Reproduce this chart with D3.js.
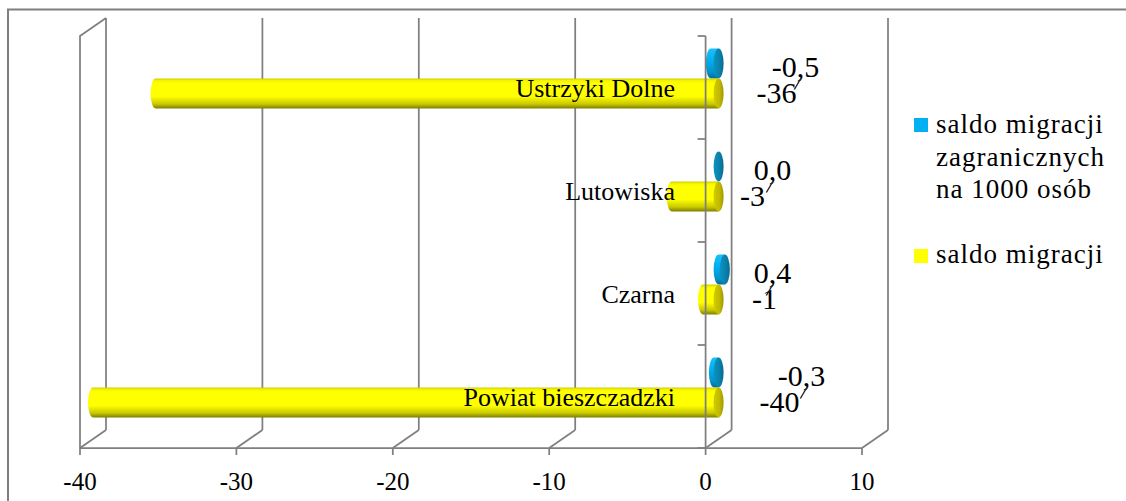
<!DOCTYPE html>
<html><head><meta charset="utf-8">
<script src="https://cdn.jsdelivr.net/npm/d3@7"></script>
<style>html,body{margin:0;padding:0;background:#fff;} svg{display:block;}</style>
</head><body>
<svg id="chart" width="1126" height="501"></svg>
<script>
// ---- data ----
const categories = ["Ustrzyki Dolne", "Lutowiska", "Czarna", "Powiat bieszczadzki"];
const saldoMigracji = [-36, -3, -1, -40];
const saldoZagraniczne = [-0.5, 0.0, 0.4, -0.3];
const seriesNames = ["saldo migracji zagranicznych na 1000 osób", "saldo migracji"];
const xTicks = [-40, -30, -20, -10, 0, 10];

// ---- layout (manual label placement as in the original) ----
const labelDxSaldo = [71, 47, 59, 74];
const labelDxZagr = [90, 67, 67, 96];

const svg = d3.select("#chart");
const FONT = "'Liberation Serif', 'Times New Roman', serif";
const GRID = "#7f7f7f";

const x = d3.scaleLinear().domain([-40, 10]).range([80, 862]);
const y = d3.scaleBand().domain(categories).range([36, 448]);
const bw = y.bandwidth();
const inner = d3.scaleBand().domain(["zagr", "saldo"]).range([bw / 2 - 30, bw / 2 + 30]);
const DX = 26, DY = -18;
const proj = (v, yy, d) => [x(v) + DX * d, yy + DY * d];

// outer border
svg.append("rect").attr("x", 8).attr("y", 9.5).attr("width", 1300).attr("height", 700)
  .attr("fill", "none").attr("stroke", GRID).attr("stroke-width", 2);

// gradients
const defs = svg.append("defs");
function lin(id, vertical, stops) {
  const g = defs.append("linearGradient").attr("id", id)
    .attr("x1", 0).attr("y1", 0).attr("x2", vertical ? 0 : 1).attr("y2", vertical ? 1 : 0);
  stops.forEach(([o, c]) => g.append("stop").attr("offset", o).attr("stop-color", c));
}
lin("yBody", true, [[0, "#cfcf00"], [0.07, "#f4f400"], [0.15, "#ffff00"], [0.6, "#ffff00"], [0.85, "#c9c900"], [1, "#7d7d00"]]);
lin("yCap", false, [[0, "#d2cb00"], [0.6, "#c0b900"], [1, "#9c9600"]]);
lin("bBody", true, [[0, "#1cc0f8"], [0.4, "#00b0f0"], [0.8, "#0092c8"], [1, "#006f98"]]);
lin("bCap", false, [[0, "#0b93c2"], [0.6, "#0a80aa"], [1, "#066a8f"]]);

// back wall gridlines + floor diagonals
const yFloor = 448, yTop = 36;
xTicks.forEach(t => {
  const [bx, by] = proj(t, yFloor, 1);
  const [, bt] = proj(t, yTop, 1);
  svg.append("line").attr("x1", bx).attr("y1", by).attr("x2", bx).attr("y2", bt)
    .attr("stroke", GRID).attr("stroke-width", 1.75);
  svg.append("line").attr("x1", x(t)).attr("y1", yFloor).attr("x2", bx).attr("y2", by)
    .attr("stroke", GRID).attr("stroke-width", 1.75);
  svg.append("line").attr("x1", x(t)).attr("y1", yFloor).attr("x2", x(t)).attr("y2", yFloor + 7)
    .attr("stroke", GRID).attr("stroke-width", 1.75);
});
// left side edge
{
  const [bx, bt] = proj(-40, yTop, 1);
  svg.append("path").attr("d", `M${x(-40)},${yFloor}V${yTop}L${bx},${bt}`)
    .attr("fill", "none").attr("stroke", GRID).attr("stroke-width", 1.75);
}
// floor front line
svg.append("line").attr("x1", x(-40)).attr("y1", yFloor).attr("x2", x(10)).attr("y2", yFloor)
  .attr("stroke", GRID).attr("stroke-width", 1.75);

// tick labels
svg.append("g").selectAll("text").data(xTicks).join("text")
  .attr("x", d => x(d)).attr("y", 490).attr("text-anchor", "middle")
  .attr("font-family", FONT).attr("font-size", 25).attr("fill", "#000")
  .text(d => d);

// cylinders
const RX = 5, RY = inner.bandwidth() / 2;
function cylinder(g, v, cat, key, body, cap) {
  const yc = y(cat) + inner(key) + RY;
  const [xa, yy] = proj(Math.min(v, 0), yc, 0.5);
  const [xb] = proj(Math.max(v, 0), yc, 0.5);
  if (xb - xa > 0.5) {
    g.append("path")
      .attr("d", `M${xb},${yy - RY}L${xa},${yy - RY}A${RX},${RY} 0 0 0 ${xa},${yy + RY}L${xb},${yy + RY}Z`)
      .attr("fill", `url(#${body})`);
  }
  g.append("ellipse").attr("cx", xb).attr("cy", yy).attr("rx", RX).attr("ry", RY)
    .attr("fill", `url(#${cap})`);
}
const barsG = svg.append("g");
categories.forEach((c, i) => {
  cylinder(barsG, saldoZagraniczne[i], c, "zagr", "bBody", "bCap");
  cylinder(barsG, saldoMigracji[i], c, "saldo", "yBody", "yCap");
});

// category axis (front plane at 0)
svg.append("line").attr("x1", x(0)).attr("y1", yTop).attr("x2", x(0)).attr("y2", yFloor)
  .attr("stroke", GRID).attr("stroke-width", 1.75);
categories.concat([null]).forEach(c => {
  const yy = c === null ? yFloor : y(c);
  svg.append("line").attr("x1", x(0) - 8).attr("y1", yy).attr("x2", x(0)).attr("y2", yy)
    .attr("stroke", GRID).attr("stroke-width", 1.75);
});

// category labels
svg.append("g").selectAll("text").data(categories).join("text")
  .attr("x", 675).attr("y", d => y(d) + bw / 2 + 9).attr("text-anchor", "end")
  .attr("font-family", FONT).attr("font-size", 26).attr("fill", "#000")
  .text(d => d);

// value labels
const fmtInt = d => String(d);
const fmtDec = d => d.toFixed(1).replace(".", ",").replace("-0,0", "0,0");
const lblG = svg.append("g").attr("font-family", FONT).attr("font-size", 30).attr("fill", "#000");
categories.forEach((c, i) => {
  const cy = y(c) + bw / 2;
  lblG.append("text").attr("x", x(0) + labelDxSaldo[i]).attr("y", cy + 15)
    .attr("text-anchor", "middle").text(fmtInt(saldoMigracji[i]));
  const t = lblG.append("text").attr("x", x(0) + labelDxZagr[i]).attr("y", cy - 11)
    .attr("text-anchor", "middle").text(fmtDec(saldoZagraniczne[i]));
  // leader line from the comma
  const node = t.node();
  const s = t.text();
  const ci = s.indexOf(",");
  const total = node.getComputedTextLength();
  const pre = node.getSubStringLength(0, ci);
  const cx = x(0) + labelDxZagr[i] - total / 2 + pre + 4;
  const by = cy - 11 + 2;
  lblG.append("line").attr("x1", cx).attr("y1", by).attr("x2", cx - 6.5).attr("y2", by + 11)
    .attr("stroke", "#222").attr("stroke-width", 1.4);
});

// legend
const leg = svg.append("g").attr("font-family", FONT).attr("font-size", 27).attr("fill", "#000")
  .attr("letter-spacing", 1);
leg.append("rect").attr("x", 914).attr("y", 118).attr("width", 14).attr("height", 14).attr("fill", "#00b0f0");
const lt = leg.append("text").attr("x", 936).attr("y", 133);
["saldo migracji", "zagranicznych", "na 1000 osób"].forEach((l, k) =>
  lt.append("tspan").attr("x", 936).attr("y", 133 + k * 32.5).text(l));
leg.append("rect").attr("x", 914).attr("y", 249).attr("width", 14).attr("height", 14).attr("fill", "#ffff00");
leg.append("text").attr("x", 936).attr("y", 263).text(seriesNames[1]);
</script>
</body></html>
